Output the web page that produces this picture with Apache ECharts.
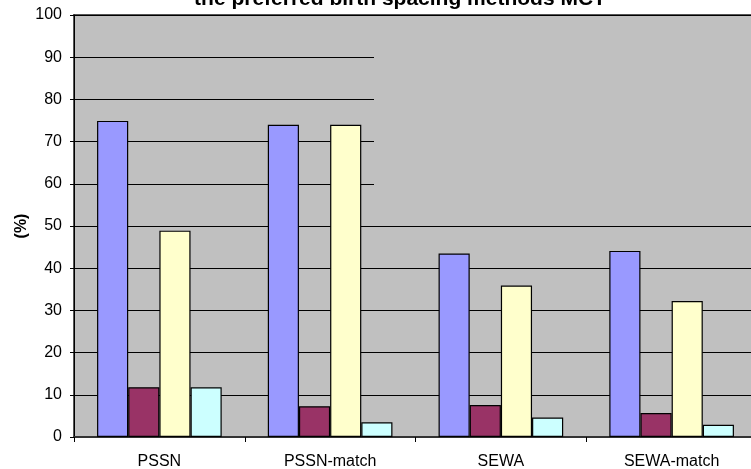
<!DOCTYPE html>
<html>
<head>
<meta charset="utf-8">
<script src="https://cdn.jsdelivr.net/npm/echarts@6/dist/echarts.min.js"></script>
<style>
  html, body { margin: 0; padding: 0; background: #ffffff; }
  #chart { width: 751px; height: 469px; }
</style>
</head>
<body>
<div id="chart"></div>
<script>
// Groups along the x axis
const categories = ['PSSN', 'PSSN-match', 'SEWA', 'SEWA-match'];

// Percentages for each method series, one value per group
const seriesA = [74.9, 74.0, 43.5, 44.1];
const seriesB = [11.8, 7.3, 7.6, 5.7];
const seriesC = [48.9, 74.0, 35.9, 32.2];
const seriesD = [11.8, 3.5, 4.6, 2.9];

// Value axis ticks
const yTicks = [0, 10, 20, 30, 40, 50, 60, 70, 80, 90, 100];

const fillColors = ['#9999FF', '#993366', '#FFFFCC', '#CCFFFF'];
const font = 'Liberation Sans, Arial, sans-serif';

const chart = echarts.init(document.getElementById('chart'), null, { renderer: 'canvas' });

function barSeries(values, color) {
  return {
    type: 'bar',
    data: values,
    barGap: '0%',
    barCategoryGap: '27%',
    itemStyle: { color: color, borderColor: '#000000', borderWidth: 1.2 },
    emphasis: { disabled: true },
    z: 3
  };
}

const option = {
  animation: false,
  title: {
    text: 'the preferred birth spacing methods MCT',
    left: 395,
    top: -16,
    textAlign: 'center',
    textStyle: { fontFamily: font, fontSize: 21, fontWeight: 'bold', color: '#000000' }
  },
  grid: {
    left: 74,
    top: 15,
    width: 683,
    height: 422,
    outerBoundsMode: 'none',
    containLabel: false,
    show: true,
    backgroundColor: '#C0C0C0',
    borderColor: '#555555',
    borderWidth: 2
  },
  xAxis: {
    type: 'category',
    data: categories,
    axisLine: { lineStyle: { color: '#333333', width: 2 } },
    axisTick: { show: true, length: 5, lineStyle: { color: '#000000' } },
    axisLabel: { fontFamily: font, fontSize: 16, color: '#000000', margin: 17 }
  },
  yAxis: {
    type: 'value',
    min: yTicks[0],
    max: yTicks[yTicks.length - 1],
    interval: yTicks[1] - yTicks[0],
    name: '(%)',
    nameLocation: 'middle',
    nameGap: 44,
    nameMoveOverlap: false,
    nameRotate: 90,
    nameTextStyle: { fontFamily: font, fontSize: 16, fontWeight: 'bold', color: '#000000' },
    axisLine: { show: true, lineStyle: { color: '#000000', width: 1 } },
    axisTick: { show: true, length: 4, lineStyle: { color: '#000000' } },
    axisLabel: { fontFamily: font, fontSize: 16, color: '#000000', margin: 12 },
    splitLine: { show: true, lineStyle: { color: '#000000', width: 1 } }
  },
  series: [
    barSeries(seriesA, fillColors[0]),
    barSeries(seriesB, fillColors[1]),
    barSeries(seriesC, fillColors[2]),
    barSeries(seriesD, fillColors[3])
  ]
};

chart.setOption(option);

// Plain backdrop panel in the upper right of the plot area (hides the grid lines there)
const topY = chart.convertToPixel({ yAxisIndex: 0 }, 100);
const panelBottom = chart.convertToPixel({ yAxisIndex: 0 }, 55);
chart.setOption({
  graphic: [{
    type: 'rect',
    shape: { x: 374, y: topY + 1.5, width: 780 - 374, height: panelBottom - topY - 1.5 },
    style: { fill: '#C0C0C0' },
    z: 1,
    zlevel: 0,
    silent: true
  }]
});
</script>
</body>
</html>
